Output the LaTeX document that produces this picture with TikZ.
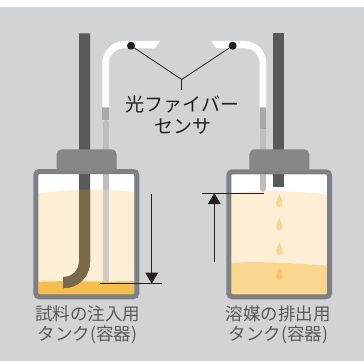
\documentclass[tikz,border=0pt]{standalone}
\usepackage{fontspec}
\newfontfamily\jpfont{Noto Sans CJK JP}
\usetikzlibrary{arrows.meta}

\definecolor{bg}{HTML}{D1D3D4}
\definecolor{rod}{HTML}{58595B}
\definecolor{rodwet}{HTML}{7A6A4C}
\definecolor{capgray}{HTML}{858688}
\definecolor{tankgray}{HTML}{7F8083}
\definecolor{fiber}{HTML}{BCBEC0}
\definecolor{fiberwet}{HTML}{CFCBC2}
\definecolor{sleeve}{HTML}{A7A9AC}
\definecolor{cream}{HTML}{FDEFD6}
\definecolor{amber}{HTML}{F6BE4F}
\definecolor{honey}{HTML}{FAD691}
\definecolor{dropA}{HTML}{F9D596}
\definecolor{dropB}{HTML}{F4C672}
\definecolor{ink}{HTML}{231F20}
\definecolor{caption}{HTML}{58595B}

\tikzset{
  tankwall/.style={draw=tankgray, line width=5pt, rounded corners=3.5pt},
  leader/.style={draw=ink, line width=0.8pt},
  levelline/.style={draw=ink, line width=1pt},
  levelarrow/.style={draw=ink, line width=1.1pt, -{Triangle[width=12.6pt,length=11pt]}},
  captiontext/.style={text=caption, font=\jpfont\fontsize{17.5}{20.5}\selectfont, align=center, inner sep=0pt},
  labeltext/.style={text=ink, font=\jpfont\fontsize{19}{21.5}\selectfont, align=center, inner sep=0pt},
  sensordot/.style={circle, fill=ink, inner sep=0pt, minimum size=8pt},
  drop/.pic={\fill[pic actions] (0,0) .. controls (0.8,2.5) and (3.4,5.5) .. (3.4,9.1)
      .. controls (3.4,11) and (1.9,12.5) .. (0,12.5)
      .. controls (-1.9,12.5) and (-3.4,11) .. (-3.4,9.1)
      .. controls (-3.4,5.5) and (-0.8,2.5) .. (0,0) -- cycle;}
}

\begin{document}
\begin{tikzpicture}[x=1pt,y=-1pt]
\useasboundingbox (0,0) rectangle (364,361);
\fill[white] (0,0) rectangle (364,7);
\fill[bg] (0,7) rectangle (364,361);

% ---------- sample tank (left): contents ----------
\fill[white] (38.3,174) rectangle (134.3,294.3);
\begin{scope}
  \clip (38.3,174) rectangle (134.3,294.3);
  \fill[cream] (38,194) .. controls (70,188) and (110,189) .. (135,192) -- (135,296) -- (38,296) -- cycle;
  \fill[amber] (38,282) .. controls (70,280) and (110,282.5) .. (135,281) -- (135,296) -- (38,296) -- cycle;
\end{scope}

% suction pipe
\draw[rod, line width=11pt] (84.5,33.3) -- (84.5,262) .. controls (84.5,273.3) and (75.3,282.5) .. (64,282.5) -- (63,282.5);
% optical fiber
\draw[fiber, line width=6pt, line cap=round] (105.7,123) -- (105.7,279);
\begin{scope}
  \clip (38,194) .. controls (70,188) and (110,189) .. (135,192) -- (135,296) -- (38,296) -- cycle;
  \draw[rodwet, line width=11pt] (84.5,180) -- (84.5,262) .. controls (84.5,273.3) and (75.3,282.5) .. (64,282.5) -- (63,282.5);
  \draw[fiberwet, line width=6pt, line cap=round] (105.7,180) -- (105.7,279);
\end{scope}
\fill[sleeve] (102.3,107.3) rectangle (109,120);
\fill[white] (102.3,107.3) -- (102.3,63) .. controls (102.3,50.9) and (112.2,41) .. (124.3,41)
  -- (160,41) -- (155,48.3) -- (124.3,48.3) .. controls (115.9,48.3) and (109,54.9) .. (109,63)
  -- (109,107.3) -- cycle;

% wall and cap
\draw[tankwall] (35.8,171.5) rectangle (136.8,296.8);
\fill[capgray] (56.7,171) [rounded corners=5pt] -- (56.7,149.3) -- (116.7,149.3) [sharp corners] -- (116.7,171) -- cycle;

% ---------- solvent tank (right): contents ----------
\fill[white] (231.3,174.3) rectangle (327,294.3);
\begin{scope}
  \clip (231.3,174.3) rectangle (327,294.3);
  \fill[cream] (231,193) .. controls (260,190) and (300,191) .. (328,194.5) -- (328,296) -- (231,296) -- cycle;
  \fill[honey] (231,263) .. controls (260,260.5) and (300,264) .. (328,265.5) -- (328,296) -- (231,296) -- cycle;
\end{scope}

% drain pipe and falling drops
\draw[rod, line width=10.5pt] (278.7,33.3) -- (278.7,186.7);
\pic[fill=dropA] at (279.3,194.3) {drop};
\pic[fill=dropA] at (279.3,218) {drop};
\pic[fill=dropA] at (279.3,242.5) {drop};
\pic[fill=dropB] at (279.3,267.5) {drop};

% optical fiber
\draw[fiber, line width=5.6pt, line cap=round] (263,131) -- (263,189);
\fill[sleeve] (259.7,107.3) rectangle (266.3,129.3);
\fill[white] (266.3,107.3) -- (266.3,63) .. controls (266.3,50.9) and (256.4,41) .. (244.3,41)
  -- (211.3,41) -- (216.3,48.3) -- (244.5,48.3) .. controls (252.9,48.3) and (259.7,54.9) .. (259.7,63)
  -- (259.7,107.3) -- cycle;

% wall and cap
\draw[tankwall] (228.8,171.8) rectangle (329.5,296.8);
\fill[capgray] (249.3,171) [rounded corners=5pt] -- (249.3,149.3) -- (309.3,149.3) [sharp corners] -- (309.3,171) -- cycle;

% ---------- level markers ----------
\coordinate (dnTop) at (151.7,194);
\coordinate (dnTip) at (151.7,283.7);
\coordinate (lvlLa) at (100,283.7);
\coordinate (lvlLb) at (161.7,283.7);
\draw[levelline] (lvlLa) -- (lvlLb);
\draw[levelarrow] (dnTop) -- (dnTip);

\coordinate (upBot) at (214.3,262.3);
\coordinate (upTip) at (214.3,193);
\coordinate (lvlRa) at (202,193);
\coordinate (lvlRb) at (263.7,193);
\draw[levelline] (lvlRa) -- (lvlRb);
\draw[levelarrow] (upBot) -- (upTip);

% ---------- sensor callout ----------
\node[sensordot] (dotL) at (131,45.7) {};
\node[sensordot] (dotR) at (232.7,45.7) {};
\coordinate (join) at (181.7,79.5);
\coordinate (tickEnd) at (181.7,90);
\draw[leader] (dotL.center) -- (join) -- (dotR.center);
\draw[leader] (join) -- (tickEnd);
\node[labeltext] (fiberLabel) at (182.5,114.9) {光ファイバー\\センサ};

% ---------- captions ----------
\node[captiontext] (capL) at (87.5,324.8) {試料の注入用\\タンク(容器)};
\node[captiontext] (capR) at (278.3,324.8) {溶媒の排出用\\タンク(容器)};
\end{tikzpicture}
\end{document}
